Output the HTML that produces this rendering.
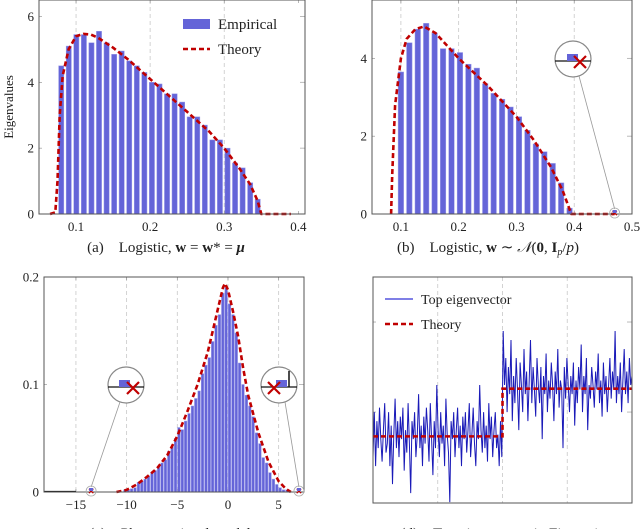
<!DOCTYPE html>
<html><head><meta charset="utf-8"><style>
html,body{margin:0;padding:0;background:#fff;}
svg{display:block;font-family:"Liberation Serif",serif;}
</style></head><body>
<svg id="fig" width="640" height="529" viewBox="0 0 640 529"></svg>
<script>
// ---- panel (a) data ----
const aBarX0 = 0.08, aBarStep = 0.0102;
const aBars = [4.5,5.1,5.45,5.45,5.2,5.55,5.2,4.85,4.95,4.65,4.5,4.3,4.0,3.95,3.65,3.65,3.4,2.95,2.95,2.7,2.25,2.25,2.0,1.55,1.4,0.95,0.45];
const aTheoryX = [0.065,0.072,0.075,0.078,0.082,0.09,0.1,0.11,0.12,0.13,0.15,0.17,0.2,0.25,0.28,0.30,0.32,0.335,0.345,0.35,0.39];
const aTheoryY = [0,0.05,1,3,4.2,5.0,5.4,5.47,5.45,5.35,5.05,4.7,4.1,3.1,2.5,2.0,1.4,0.9,0.4,0,0];
const aXTicks = [0.1,0.2,0.3,0.4];
const aYTicks = [0,2,4,6];
// ---- panel (b) data ----
const bBarX0 = 0.1, bBarStep = 0.0146;
const bBars = [3.65,4.4,4.75,4.9,4.65,4.25,4.25,4.15,3.85,3.75,3.35,3.1,2.95,2.75,2.5,2.15,1.8,1.6,1.3,0.8,0.15];
const bTheoryX = [0.083,0.085,0.09,0.1,0.11,0.125,0.14,0.16,0.2,0.25,0.3,0.33,0.36,0.38,0.39,0.395,0.47];
const bTheoryY = [0,1,2.8,4.0,4.5,4.75,4.82,4.65,4.0,3.3,2.5,1.9,1.2,0.6,0.2,0,0];
const bXTicks = [0.1,0.2,0.3,0.4,0.5];
const bYTicks = [0,2,4];
const bOutlier = 0.47;
// ---- panel (c) data ----
const cBarX0 = -10.17, cBarStep = 0.333;
const cBars = [0.002,0.002,0.003,0.004,0.009,0.01,0.012,0.015,0.018,0.02,0.024,0.027,0.03,0.038,0.042,0.05,0.06,0.058,0.066,0.073,0.08,0.087,0.094,0.11,0.118,0.125,0.14,0.155,0.165,0.185,0.19,0.175,0.165,0.148,0.12,0.1,0.09,0.08,0.07,0.055,0.045,0.032,0.027,0.018,0.012,0.007,0.004,0.002,0.002];
const cTheoryX = [-11,-10,-9,-8,-7,-6,-5,-4,-3,-2,-1.5,-1,-0.5,-0.3,0,0.5,1,1.5,2,3,4,5,5.7,6.2];
const cTheoryY = [0,0.002,0.007,0.014,0.022,0.034,0.052,0.075,0.1,0.13,0.15,0.17,0.19,0.194,0.188,0.168,0.145,0.115,0.09,0.055,0.028,0.01,0.003,0];
const cXTicks = [-15,-10,-5,0,5];
const cYTicks = [0,0.1,0.2];
const cOutliers = [-13.5,7];
// ---- panel (d) data ----
const dLeft = [-0.5,0.0,-0.6,-0.1,-0.4,0.05,-0.3,-0.55,-0.2,0.1,-0.45,-0.35,0.0,-0.6,-0.15,-0.8,-0.25,0.15,-0.4,-0.1,-0.5,-0.05,-0.3,0.05,-0.65,-0.2,-0.45,0.1,-0.35,-0.9,-0.1,-0.3,0.0,-0.5,-0.25,0.2,-0.4,-0.15,-0.6,-0.05,-0.35,0.05,-0.2,-0.55,0.1,-0.3,-0.7,-0.1,-0.4,0.3,-0.2,-0.5,0.0,-0.35,-0.15,-0.6,0.15,-0.25,-0.45,-1.0,-0.1,-0.3,0.0,-0.5,-0.2,0.05,-0.4,-0.15,-0.6,-0.05,-0.3,0.0,-0.45,-0.2,0.1,-0.5,-0.25,0.05,-0.35,-0.6,-0.1,-0.3,0.3,-0.2,-0.45,0.0,-0.4,-0.15,-0.55,0.1,-0.3,-0.05,-0.5,-0.2,0.0,-0.4,-0.25,-0.6,-0.1,-0.5];
const dRight = [0.9,0.3,0.6,0.0,0.5,0.2,0.8,-0.1,0.4,0.1,0.6,0.25,-0.2,0.55,0.3,0.0,0.7,0.2,0.45,-0.1,0.35,0.8,0.1,0.5,0.25,-0.05,0.6,0.3,0.1,0.5,-0.3,0.4,0.2,0.65,0.0,0.35,0.15,0.55,0.3,-0.1,0.45,0.2,0.7,0.05,0.35,0.25,-0.4,0.5,0.15,0.6,0.3,0.0,0.4,0.2,0.55,-0.15,0.35,0.1,0.5,0.25,0.75,0.0,0.4,0.2,0.6,-0.2,0.3,0.15,0.5,0.3,0.05,0.45,0.25,0.65,0.1,0.35,-0.05,0.55,0.2,0.4,0.0,0.3,0.6,0.15,0.45,0.25,0.9,0.1,0.4,0.2,0.55,0.0,0.35,0.7,0.2,0.45,0.1,0.6,0.3,0.4];
const dLevels = [-0.27, 0.26];
const dXGrid = [0.25,0.5,0.75];
const dYTicks = [0,1];

const NS = "http://www.w3.org/2000/svg";
const svg = document.getElementById('fig');
function el(tag, attrs, parent, text){
  const e = document.createElementNS(NS, tag);
  for (const k in attrs) e.setAttribute(k, attrs[k]);
  if (text !== undefined) e.textContent = text;
  (parent||svg).appendChild(e);
  return e;
}
function scale(d0,d1,r0,r1){ return v => r0 + (v-d0)/(d1-d0)*(r1-r0); }
const RED = "#c00000", BAR = "#6464d8";

function frame(g, L, T, R, B, xs, ys, xTicks, yTicks, fmtX, fmtY, gridX){
  // grid
  gridX.forEach(t => {
    const ln = el('line',{x1:xs(t),x2:xs(t),y1:T,y2:B,stroke:'#c8c8c8','stroke-width':0.8,'stroke-dasharray':'4,3'},g);
    
    
  });
  xTicks.forEach(t => {
    el('line',{x1:xs(t),x2:xs(t),y1:B,y2:B-3,stroke:'#888','stroke-width':0.6},g);
    el('line',{x1:xs(t),x2:xs(t),y1:T,y2:T+3,stroke:'#888','stroke-width':0.6},g);
    if (fmtX){
      const tx = el('text',{x:xs(t),y:B+17,'text-anchor':'middle','font-size':13,fill:'#222'},g,fmtX(t));
      
      
    }
  });
  yTicks.forEach(t => {
    el('line',{x1:L,x2:L+3,y1:ys(t),y2:ys(t),stroke:'#888','stroke-width':0.6},g);
    el('line',{x1:R,x2:R-5,y1:ys(t),y2:ys(t),stroke:'#aaa','stroke-width':0.8},g);
    if (fmtY){
      const tx = el('text',{x:L-5,y:ys(t)+4.5,'text-anchor':'end','font-size':13,fill:'#222'},g,fmtY(t));
      
      
    }
  });
}
function border(g,L,T,R,B){
  const r = el('rect',{x:L,y:T,width:R-L,height:B-T,fill:'none',stroke:'#555','stroke-width':1},g);
  
  
}
function bars(g, x0, step, vals, xs, ys, w){
  vals.forEach((v,i) => {
    const cx = xs(x0 + i*step);
    const r = el('rect',{x:cx-w/2,y:ys(v),width:w,height:ys(0)-ys(v),fill:BAR,stroke:'#9a9ae8','stroke-width':0.5},g);
    
    
  });
}
function theory(g, X, Y, xs, ys){
  const d = X.map((x,i)=>(i?'L':'M')+xs(x).toFixed(1)+','+ys(Y[i]).toFixed(1)).join(' ');
  const p = el('path',{d:d,fill:'none',stroke:RED,'stroke-width':2.6,'stroke-dasharray':'5,3','stroke-linejoin':'round'},g);
  
  
}
function cross(g,x,y,s,w){
  el('path',{d:`M${x-s},${y-s}L${x+s},${y+s}M${x-s},${y+s}L${x+s},${y-s}`,stroke:RED,'stroke-width':w},g);
}
function zoomInset(g, cx, cy, r, tx, ty, barLeft, rightTick){
  el('line',{x1:cx+(tx>cx?6:-6),y1:cy+r-1,x2:tx,y2:ty-4,stroke:'#999','stroke-width':0.8},g);
  el('circle',{cx:tx,cy:ty,r:5,fill:'none',stroke:'#aaa','stroke-width':0.8},g);
  el('circle',{cx:cx,cy:cy,r:r,fill:'#fff',stroke:'#888','stroke-width':1.2},g);
  el('line',{x1:cx-r,x2:cx+r,y1:cy+2,y2:cy+2,stroke:'#111','stroke-width':1.2},g);
  el('rect',{x:cx+barLeft,y:cy-5,width:11,height:7,fill:BAR},g);
  if (rightTick) el('line',{x1:cx+10,x2:cx+10,y1:cy-14,y2:cy+2,stroke:'#111','stroke-width':1.5},g);
  cross(g, cx+(rightTick?-5:7), cy+3, 6, 2.2);
  cross(g, tx, ty, 2.2, 1.2);
  el('rect',{x:tx-2,y:ty-3,width:4,height:3,fill:BAR},g);
}

// ===== Panel (a) =====
{
  const g = el('g',{});  
  const L=39,T=0,R=305,B=214;
  const xs = scale(0.05,0.409,L,R), ys = scale(0,6.5,B,T);
  frame(g,L,T,R,B,xs,ys,aXTicks,aYTicks,t=>t.toFixed(1),t=>String(t),aXTicks.slice(0,3));
  bars(g,aBarX0,aBarStep,aBars,xs,ys,5.2);
  theory(g,aTheoryX,aTheoryY,xs,ys);
  border(g,L,T,R,B);
  const lg = el('g',{},g);  
  el('rect',{x:183,y:19,width:27,height:10,fill:BAR},lg);
  el('text',{x:218,y:29,'font-size':15,fill:'#222'},lg,'Empirical');
  el('line',{x1:183,x2:210,y1:49,y2:49,stroke:RED,'stroke-width':2.6,'stroke-dasharray':'5,3'},lg);
  el('text',{x:218,y:54,'font-size':15,fill:'#222'},lg,'Theory');
  const yl = el('text',{x:0,y:0,transform:'translate(13,107) rotate(-90)','text-anchor':'middle','font-size':13,fill:'#222'},g,'Eigenvalues');
   
  const cap = el('text',{x:166,y:252,'text-anchor':'middle','font-size':15,fill:'#222'},g);
   
  cap.innerHTML = '(a)\u2003Logistic, <tspan font-weight="bold">w</tspan> = <tspan font-weight="bold">w</tspan>* = <tspan font-weight="bold" font-style="italic">μ</tspan>';
}
// ===== Panel (b) =====
{
  const g = el('g',{});  
  const L=372,T=0,R=632,B=214;
  const xs = scale(0.05,0.5,L,R), ys = scale(0,5.5,B,T);
  frame(g,L,T,R,B,xs,ys,bXTicks,bYTicks,t=>t.toFixed(1),t=>String(t),bXTicks.slice(0,4));
  bars(g,bBarX0,bBarStep,bBars,xs,ys,5.5);
  theory(g,bTheoryX,bTheoryY,xs,ys);
  border(g,L,T,R,B);
  zoomInset(g,573,59,18,xs(bOutlier),ys(0)-1,-6,false);
  const cap = el('text',{x:488,y:252,'text-anchor':'middle','font-size':15,fill:'#222'},g);
   
  cap.innerHTML = '(b)\u2003Logistic, <tspan font-weight="bold">w</tspan> ∼ <tspan font-style="italic">𝒩</tspan>(<tspan font-weight="bold">0</tspan>, <tspan font-weight="bold">I</tspan><tspan font-size="10" dy="3" font-style="italic">p</tspan><tspan dy="-3">/</tspan><tspan font-style="italic">p</tspan>)';
}
// ===== Panel (c) =====
{
  const g = el('g',{});  
  const L=44,T=277,R=304,B=492;
  const xs = scale(-18.15,7.5,L,R), ys = scale(0,0.2,B,T);
  frame(g,L,T,R,B,xs,ys,cXTicks,cYTicks,t=>t<0?'\u2212'+(-t):String(t),t=>String(t),cXTicks);
  el('line',{x1:L,x2:xs(-15),y1:B-0.5,y2:B-0.5,stroke:'#111','stroke-width':1.2},g);
  bars(g,cBarX0,cBarStep,cBars,xs,ys,2.6);
  theory(g,cTheoryX,cTheoryY,xs,ys);
  border(g,L,T,R,B);
  zoomInset(g,126,385,18,xs(cOutliers[0]),B-1,-7,false);
  zoomInset(g,279,385,18,xs(cOutliers[1]),B-1,-3,true);
  const cap = el('text',{x:170,y:538,'text-anchor':'middle','font-size':15,fill:'#222'},g,'(c)\u2003Phase retrieval model');
   
}
// ===== Panel (d) =====
{
  const g = el('g',{});  
  const L=373,T=277,R=632,B=503;
  const xs = scale(0,1,L,R), ys = scale(-1.01,1.5,B,T);
  frame(g,L,T,R,B,xs,ys,[],dYTicks,null,null,dXGrid);
  const n = dLeft.length + dRight.length;
  const all = dLeft.concat(dRight);
  const d = all.map((v,i)=>(i?'L':'M')+xs(i/(n-1)).toFixed(1)+','+ys(v).toFixed(1)).join(' ');
  const p = el('path',{d:d,fill:'none',stroke:'#1a1ab8','stroke-width':1},g);
   
  const half = xs(0.5);
  const td = `M${L},${ys(dLevels[0])} L${half},${ys(dLevels[0])} L${half},${ys(dLevels[1])} L${R},${ys(dLevels[1])}`;
  const tp = el('path',{d:td,fill:'none',stroke:RED,'stroke-width':2.6,'stroke-dasharray':'5,3'},g);
   
  border(g,L,T,R,B);
  const lg = el('g',{},g);  
  el('line',{x1:385,x2:413,y1:299,y2:299,stroke:'#5555dd','stroke-width':1.5},lg);
  el('text',{x:421,y:304,'font-size':14,fill:'#222'},lg,'Top eigenvector');
  el('line',{x1:385,x2:413,y1:324,y2:324,stroke:RED,'stroke-width':2.6,'stroke-dasharray':'5,3'},lg);
  el('text',{x:421,y:329,'font-size':14,fill:'#222'},lg,'Theory');
  const cap = el('text',{x:500,y:538,'text-anchor':'middle','font-size':15,fill:'#222'},g,'(d)\u2003Top eigenvector in Figure 1');
   
}
</script>
</body></html>
